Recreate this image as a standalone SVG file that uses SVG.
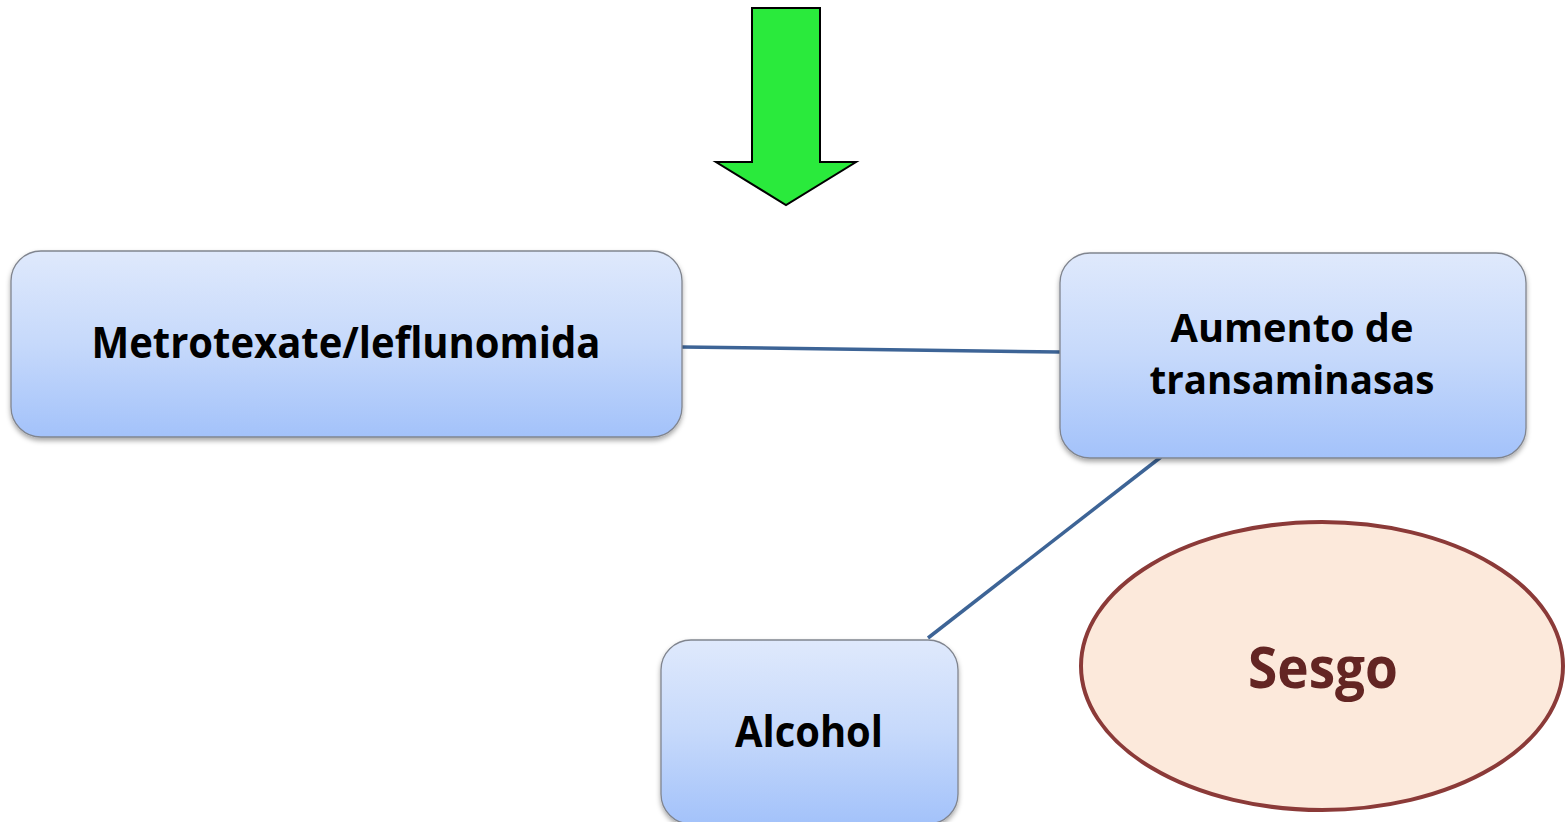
<svg xmlns="http://www.w3.org/2000/svg" width="1566" height="822" viewBox="0 0 1566 822">
  <style>
    .box { fill: url(#boxFill); stroke: #80858f; stroke-width: 1.3; filter: url(#shadow); }
    .label { font-family: "Open Sans", "Liberation Sans", sans-serif; font-weight: bold; fill: #000; text-anchor: middle; }
    .link { stroke: #3d6496; stroke-width: 3.5; fill: none; }
  </style>
  <defs>
    <linearGradient id="boxFill" x1="0" y1="0" x2="0" y2="1">
      <stop offset="0" stop-color="#dfe9fc"/>
      <stop offset="0.5" stop-color="#c6d9fb"/>
      <stop offset="1" stop-color="#a3c2fa"/>
    </linearGradient>
    <filter id="shadow" x="-5%" y="-5%" width="110%" height="120%">
      <feDropShadow dx="0" dy="3" stdDeviation="2.5" flood-color="#000" flood-opacity="0.35"/>
    </filter>
  </defs>

  <!-- downward block arrow -->
  <g id="arrow">
    <polygon points="752,8 820,8 820,162 856,162 786,205 716,162 752,162" fill="#2aea3c" stroke="#000" stroke-width="2" stroke-linejoin="miter"/>
  </g>

  <!-- connectors -->
  <g id="connectors">
    <line class="link" x1="682" y1="347" x2="1060" y2="352"/>
    <line class="link" x1="1161" y1="457" x2="928" y2="638"/>
  </g>

  <g id="node-metrotexate">
    <rect class="box" x="11" y="251" width="671" height="186" rx="30"/>
    <text class="label" x="346" y="358" font-size="43" textLength="509" lengthAdjust="spacingAndGlyphs">Metrotexate/leflunomida</text>
  </g>

  <g id="node-transaminasas">
    <rect class="box" x="1060" y="253" width="466" height="205" rx="30"/>
    <text class="label" x="1292" y="342" font-size="40" textLength="243" lengthAdjust="spacingAndGlyphs">Aumento de</text>
    <text class="label" x="1292" y="394" font-size="40" textLength="285" lengthAdjust="spacingAndGlyphs">transaminasas</text>
  </g>

  <g id="node-alcohol">
    <rect class="box" x="661" y="640" width="297" height="184" rx="30"/>
    <text class="label" x="809" y="747" font-size="43" textLength="148" lengthAdjust="spacingAndGlyphs">Alcohol</text>
  </g>

  <g id="node-sesgo">
    <ellipse cx="1322" cy="666" rx="241" ry="144" fill="#fce9db" stroke="#8b3a38" stroke-width="4"/>
    <text x="1323" y="688" font-family="'Open Sans', 'Liberation Sans', sans-serif" font-weight="bold" font-size="58" fill="#632523" text-anchor="middle" textLength="150" lengthAdjust="spacingAndGlyphs">Sesgo</text>
  </g>
</svg>
